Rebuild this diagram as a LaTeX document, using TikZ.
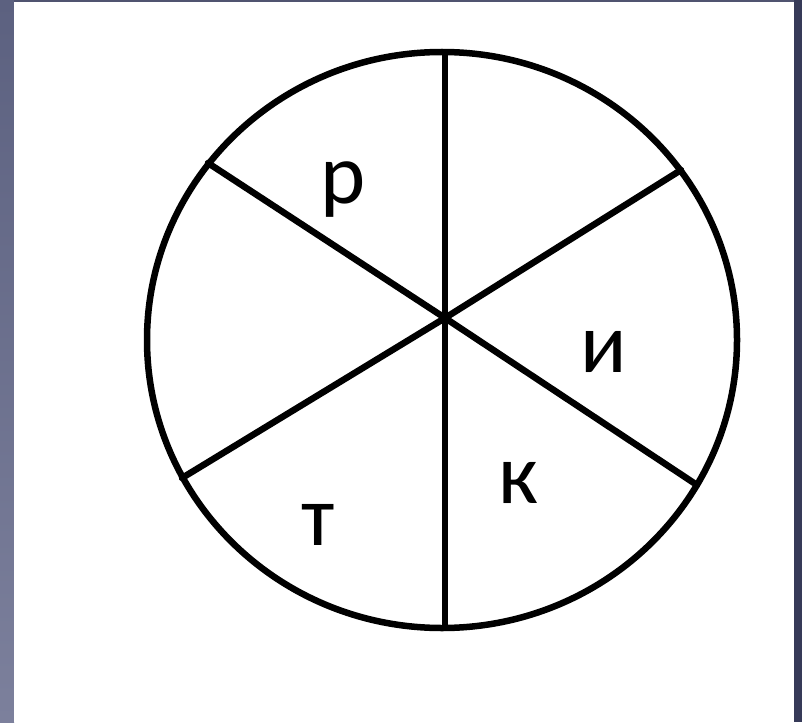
\documentclass[tikz,border=0pt]{standalone}
\usepackage{fontspec}
\setmainfont{Carlito}
\usepackage{tikz}
\usetikzlibrary{positioning}
\definecolor{sideTop}{RGB}{92,97,128}
\definecolor{sideBot}{RGB}{124,128,156}
\definecolor{sideDark}{RGB}{54,58,88}
\definecolor{topBar}{RGB}{80,84,112}

\begin{document}
\begin{tikzpicture}[
    x=1pt, y=-1pt,
    rim/.style={draw=black, line width=6.5pt},
    spoke/.style={draw=black, line width=6.5pt, line cap=round},
    letter/.style={inner sep=0pt, font=\fontsize{86}{86}\selectfont}
]
\useasboundingbox (0,0) rectangle (802,722);

% Sfondo
\shade[top color=sideTop, bottom color=sideBot] (0,0) rectangle (14,722);
\fill[sideDark] (794,0) rectangle (802,722);
\fill[topBar] (14,0) rectangle (794,2);
\fill[white] (14,2) rectangle (794,722);

% Ruota
\draw[rim] (442,340) ellipse [x radius=295, y radius=288];

\coordinate (hub) at (445,318);
\coordinate (top) at (445,53);
\coordinate (bot) at (445,627);
\coordinate (ul) at (208,163);
\coordinate (ur) at (681,170);
\coordinate (ll) at (182,478);
\coordinate (lr) at (697,485);

% Raggi
\draw[spoke] (top) -- (bot);
\draw[spoke] (ul) -- (hub) -- (lr);
\draw[spoke] (ur) -- (hub) -- (ll);

% Lettere
\node[letter] (r) at (343,190) {р};
\node[letter] (i) at (604,352) {и};
\node[letter] (k) at (518,483) {к};
\node[letter] (t) at (318,525) {т};

\end{tikzpicture}
\end{document}
